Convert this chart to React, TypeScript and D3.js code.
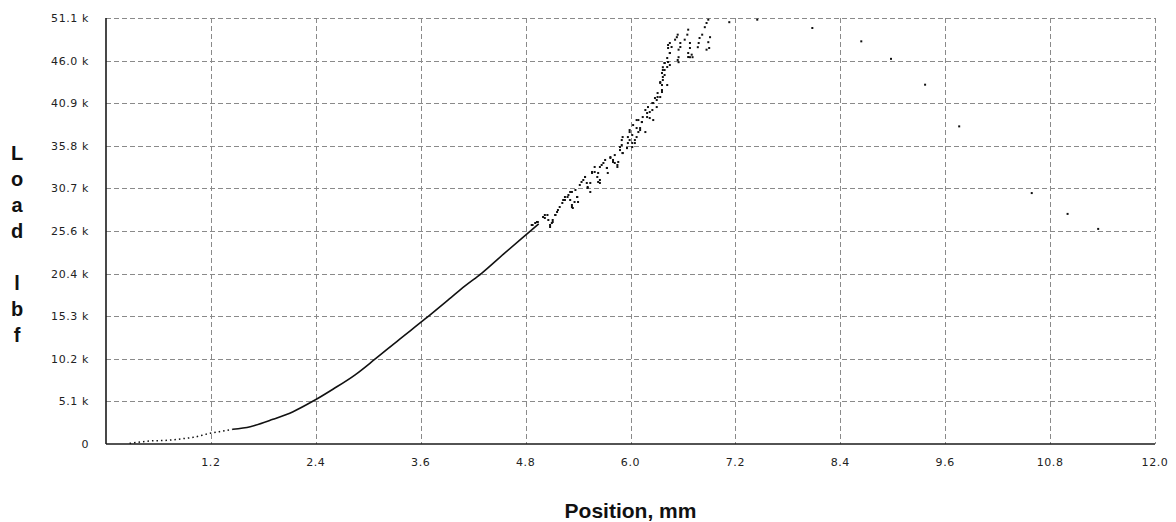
import React, { useRef, useEffect } from "react";
import * as d3 from "d3";

const WIDTH = 1176;
const HEIGHT = 522;

// x axis ticks (mm) and y axis ticks (lbf)
const xTicks = [1.2, 2.4, 3.6, 4.8, 6.0, 7.2, 8.4, 9.6, 10.8, 12.0];
const yTicks = [0, 5.11, 10.22, 15.33, 20.44, 25.55, 30.66, 35.77, 40.88, 45.99, 51.1];
const yTickLabels = ["0", "5.1 k", "10.2 k", "15.3 k", "20.4 k", "25.6 k", "30.7 k", "35.8 k", "40.9 k", "46.0 k", "51.1 k"];

// load curve: toe region (sparse dots) then the smooth loading part, [mm, k lbf]
const toeCurve: [number, number][] = [
    [0.27, 0.08], [0.39, 0.24], [0.5, 0.36], [0.7, 0.44], [0.88, 0.64],
    [1.0, 0.8], [1.19, 1.28], [1.3, 1.48], [1.45, 1.76],
];
const mainCurve: [number, number][] = [
    [1.45, 1.76], [1.65, 2.08], [1.91, 2.96], [2.14, 3.88], [2.37, 5.15],
    [2.6, 6.6], [2.85, 8.3], [3.08, 10.2], [3.35, 12.5], [3.65, 15.0],
    [3.95, 17.6], [4.1, 18.9], [4.3, 20.5], [4.55, 22.8], [4.85, 25.5], [4.95, 26.4],
];

// scattered points after the curve breaks up, [mm, k lbf]
const scatterBand: [number, number][] = [
    [4.87, 26.27], [4.91, 26.51], [4.94, 26.63], [5.0, 27.23], [5.02, 27.11], [5.05, 27.47],
    [5.08, 26.03], [5.1, 26.51], [5.11, 26.87], [5.14, 27.47], [5.16, 27.83], [5.19, 28.43],
    [5.23, 29.27], [5.25, 29.63], [5.29, 29.87], [5.31, 29.27], [5.33, 28.67], [5.34, 28.31],
    [5.33, 30.23], [5.37, 30.47], [5.39, 29.63], [5.4, 29.03], [5.46, 31.67], [5.48, 32.03],
    [5.5, 31.31], [5.51, 30.71], [5.54, 30.23], [5.56, 32.51], [5.59, 32.63], [5.62, 32.03],
    [5.63, 31.43], [5.65, 31.31], [5.65, 33.23], [5.69, 33.71], [5.73, 33.11], [5.74, 32.51],
    [5.77, 34.31], [5.8, 34.07], [5.82, 33.71], [5.85, 33.23], [5.86, 33.83], [5.88, 35.26],
    [5.9, 35.86], [5.91, 34.9], [5.96, 35.5], [5.97, 36.1], [5.99, 36.46], [6.02, 37.06],
    [6.07, 36.82], [6.09, 37.42], [6.05, 36.1], [5.91, 36.82], [6.02, 35.62], [5.99, 37.42],
    [6.03, 38.26], [6.07, 37.9], [6.11, 37.66], [6.13, 38.62], [6.09, 38.86], [6.14, 39.22],
    [6.19, 39.7], [6.22, 39.1], [6.25, 40.06], [6.2, 40.42], [6.26, 40.9], [6.3, 41.26],
    [6.31, 42.1], [6.34, 41.62], [6.36, 42.46], [6.36, 43.06], [6.37, 43.66], [6.34, 43.42],
    [6.39, 44.26], [6.36, 44.5], [6.37, 44.86], [6.42, 45.22], [6.39, 45.7], [6.43, 45.82],
    [6.45, 45.46],
];

// second pass over the band, read from a closer look
const scatterBandEdges: [number, number][] = [
    [4.88, 26.27], [4.93, 26.63], [5.02, 27.47], [5.06, 26.87], [5.08, 26.27], [5.11, 26.63],
    [5.14, 27.47], [5.17, 28.07], [5.22, 28.91], [5.25, 29.27], [5.28, 29.63], [5.31, 30.23],
    [5.33, 28.43], [5.36, 29.03], [5.39, 29.63], [5.42, 31.07], [5.44, 31.43], [5.48, 32.03],
    [5.51, 30.83], [5.54, 31.31], [5.56, 32.63], [5.59, 33.23], [5.63, 32.51], [5.65, 31.67],
    [5.67, 33.47], [5.71, 34.07], [5.73, 33.11], [5.77, 34.42], [5.8, 33.83], [5.82, 34.66],
    [5.85, 33.47], [5.88, 35.62], [5.9, 36.46], [5.91, 34.9], [5.96, 35.5], [5.97, 36.82],
    [5.99, 37.66], [6.02, 36.1], [6.05, 36.46], [6.07, 38.86], [6.11, 37.9], [6.13, 38.62],
    [6.17, 37.42], [6.17, 40.06], [6.19, 39.22], [6.22, 39.82], [6.25, 40.9], [6.28, 41.5],
    [6.26, 38.86], [6.3, 40.42], [6.31, 41.62], [6.34, 43.3], [6.36, 42.22], [6.37, 44.02],
    [6.39, 44.86], [6.42, 43.06], [6.43, 45.82], [6.45, 46.9], [6.47, 47.62], [6.43, 47.86],
    [6.54, 46.06], [6.57, 47.62], [6.66, 46.42],
];

// cluster near peak load
const peakCluster: [number, number][] = [
    [6.89, 50.9], [6.87, 50.5], [6.85, 50.0], [6.82, 49.1], [6.79, 48.7], [6.78, 48.1],
    [6.77, 47.6], [6.91, 48.8], [6.89, 48.2], [6.9, 47.5], [6.87, 47.3], [6.66, 49.7],
    [6.65, 49.1], [6.62, 48.5], [6.54, 49.1], [6.53, 48.8], [6.51, 48.5], [6.57, 48.1],
    [6.55, 47.3], [6.55, 46.4], [6.55, 45.8], [6.45, 48.1], [6.43, 47.5], [6.45, 46.9],
    [6.42, 46.3], [6.39, 45.7], [6.37, 45.2], [6.66, 46.9], [6.68, 46.4], [6.7, 46.7],
    [6.71, 46.4], [6.68, 48.1], [6.68, 47.5],
];

// lone points after failure
const tailPoints: [number, number][] = [
    [7.13, 50.6], [7.45, 50.9], [8.08, 49.9], [8.64, 48.3], [8.98, 46.2],
    [9.37, 43.1], [9.76, 38.1], [10.59, 30.1], [11.0, 27.6], [11.35, 25.8],
];

const yTitle = ["L", "o", "a", "d", "", "l", "b", "f"];

const LoadChart = () => {
    const svgRef = useRef<SVGSVGElement | null>(null);

    useEffect(() => {
        const svg = d3.select(svgRef.current);
        svg.selectAll("*").remove();

        const margin = { top: 18, right: 21, bottom: 78, left: 106 };
        const innerWidth = WIDTH - margin.left - margin.right;
        const innerHeight = HEIGHT - margin.top - margin.bottom;

        const x = d3.scaleLinear().domain([0, 12]).range([0, innerWidth]);
        const y = d3.scaleLinear().domain([0, 51.1]).range([innerHeight, 0]);

        svg.append("rect").attr("width", WIDTH).attr("height", HEIGHT).attr("fill", "#fff");

        const g = svg.append("g")
            .attr("transform", `translate(${margin.left},${margin.top})`);

        // dashed grid
        g.append("g")
            .selectAll("line")
            .data(yTicks.slice(1))
            .enter()
            .append("line")
            .attr("x1", 0)
            .attr("x2", innerWidth)
            .attr("y1", d => Math.round(y(d)) + 0.5)
            .attr("y2", d => Math.round(y(d)) + 0.5)
            .attr("stroke", "#8a8a8a")
            .attr("stroke-dasharray", "5 3");

        g.append("g")
            .selectAll("line")
            .data(xTicks)
            .enter()
            .append("line")
            .attr("x1", d => Math.round(x(d)) + 0.5)
            .attr("x2", d => Math.round(x(d)) + 0.5)
            .attr("y1", 0)
            .attr("y2", innerHeight)
            .attr("stroke", "#8a8a8a")
            .attr("stroke-dasharray", "5 3");

        // axis lines
        g.append("line")
            .attr("x1", 0).attr("x2", 0)
            .attr("y1", 0).attr("y2", innerHeight)
            .attr("stroke", "#1a1a1a").attr("stroke-width", 1.6);
        g.append("line")
            .attr("x1", 0).attr("x2", innerWidth)
            .attr("y1", innerHeight).attr("y2", innerHeight)
            .attr("stroke", "#1a1a1a").attr("stroke-width", 1.6);

        // tick labels
        g.append("g")
            .selectAll("text")
            .data(yTicks)
            .enter()
            .append("text")
            .attr("x", -17)
            .attr("y", d => y(d))
            .attr("dy", "0.36em")
            .attr("text-anchor", "end")
            .attr("font-family", "DejaVu Sans, sans-serif")
            .attr("font-size", 11)
            .attr("letter-spacing", 0.6)
            .attr("fill", "#222")
            .text((d, i) => yTickLabels[i]);

        g.append("g")
            .selectAll("text")
            .data(xTicks)
            .enter()
            .append("text")
            .attr("x", d => x(d))
            .attr("y", innerHeight + 18)
            .attr("dy", "0.36em")
            .attr("text-anchor", "middle")
            .attr("font-family", "DejaVu Sans, sans-serif")
            .attr("font-size", 11)
            .attr("letter-spacing", 0.6)
            .attr("fill", "#222")
            .text(d => d.toFixed(1));

        // the load curve
        const line = d3.line<[number, number]>()
            .x(d => x(d[0]))
            .y(d => y(d[1]))
            .curve(d3.curveMonotoneX);

        g.append("path")
            .datum(toeCurve)
            .attr("d", line)
            .attr("fill", "none")
            .attr("stroke", "#111")
            .attr("stroke-width", 1.5)
            .attr("stroke-dasharray", "1.5 3");

        g.append("path")
            .datum(mainCurve)
            .attr("d", line)
            .attr("fill", "none")
            .attr("stroke", "#111")
            .attr("stroke-width", 1.6);

        g.append("g")
            .selectAll("rect")
            .data([...scatterBand, ...scatterBandEdges, ...peakCluster, ...tailPoints])
            .enter()
            .append("rect")
            .attr("x", d => x(d[0]) - 1)
            .attr("y", d => y(d[1]) - 1)
            .attr("width", 2)
            .attr("height", 2)
            .attr("fill", "#111");

        // axis titles
        svg.append("text")
            .attr("x", margin.left + innerWidth / 2)
            .attr("y", 510)
            .attr("dy", "0.36em")
            .attr("text-anchor", "middle")
            .attr("font-family", "Liberation Sans, Arial, sans-serif")
            .attr("font-weight", "bold")
            .attr("font-size", 21)
            .attr("fill", "#111")
            .text("Position, mm");

        svg.append("g")
            .selectAll("text")
            .data(yTitle)
            .enter()
            .append("text")
            .attr("x", 17)
            .attr("y", (d, i) => 153 + i * 26)
            .attr("dy", "0.36em")
            .attr("text-anchor", "middle")
            .attr("font-family", "Liberation Sans, Arial, sans-serif")
            .attr("font-weight", "bold")
            .attr("font-size", 20)
            .attr("fill", "#111")
            .text(d => d);
    }, []);

    return (
        <svg
            ref={svgRef}
            width={WIDTH}
            height={HEIGHT}
            style={{ position: "absolute", left: 0, top: 0, display: "block" }}
        />
    );
};

export default function App() {
    return <LoadChart />;
}
